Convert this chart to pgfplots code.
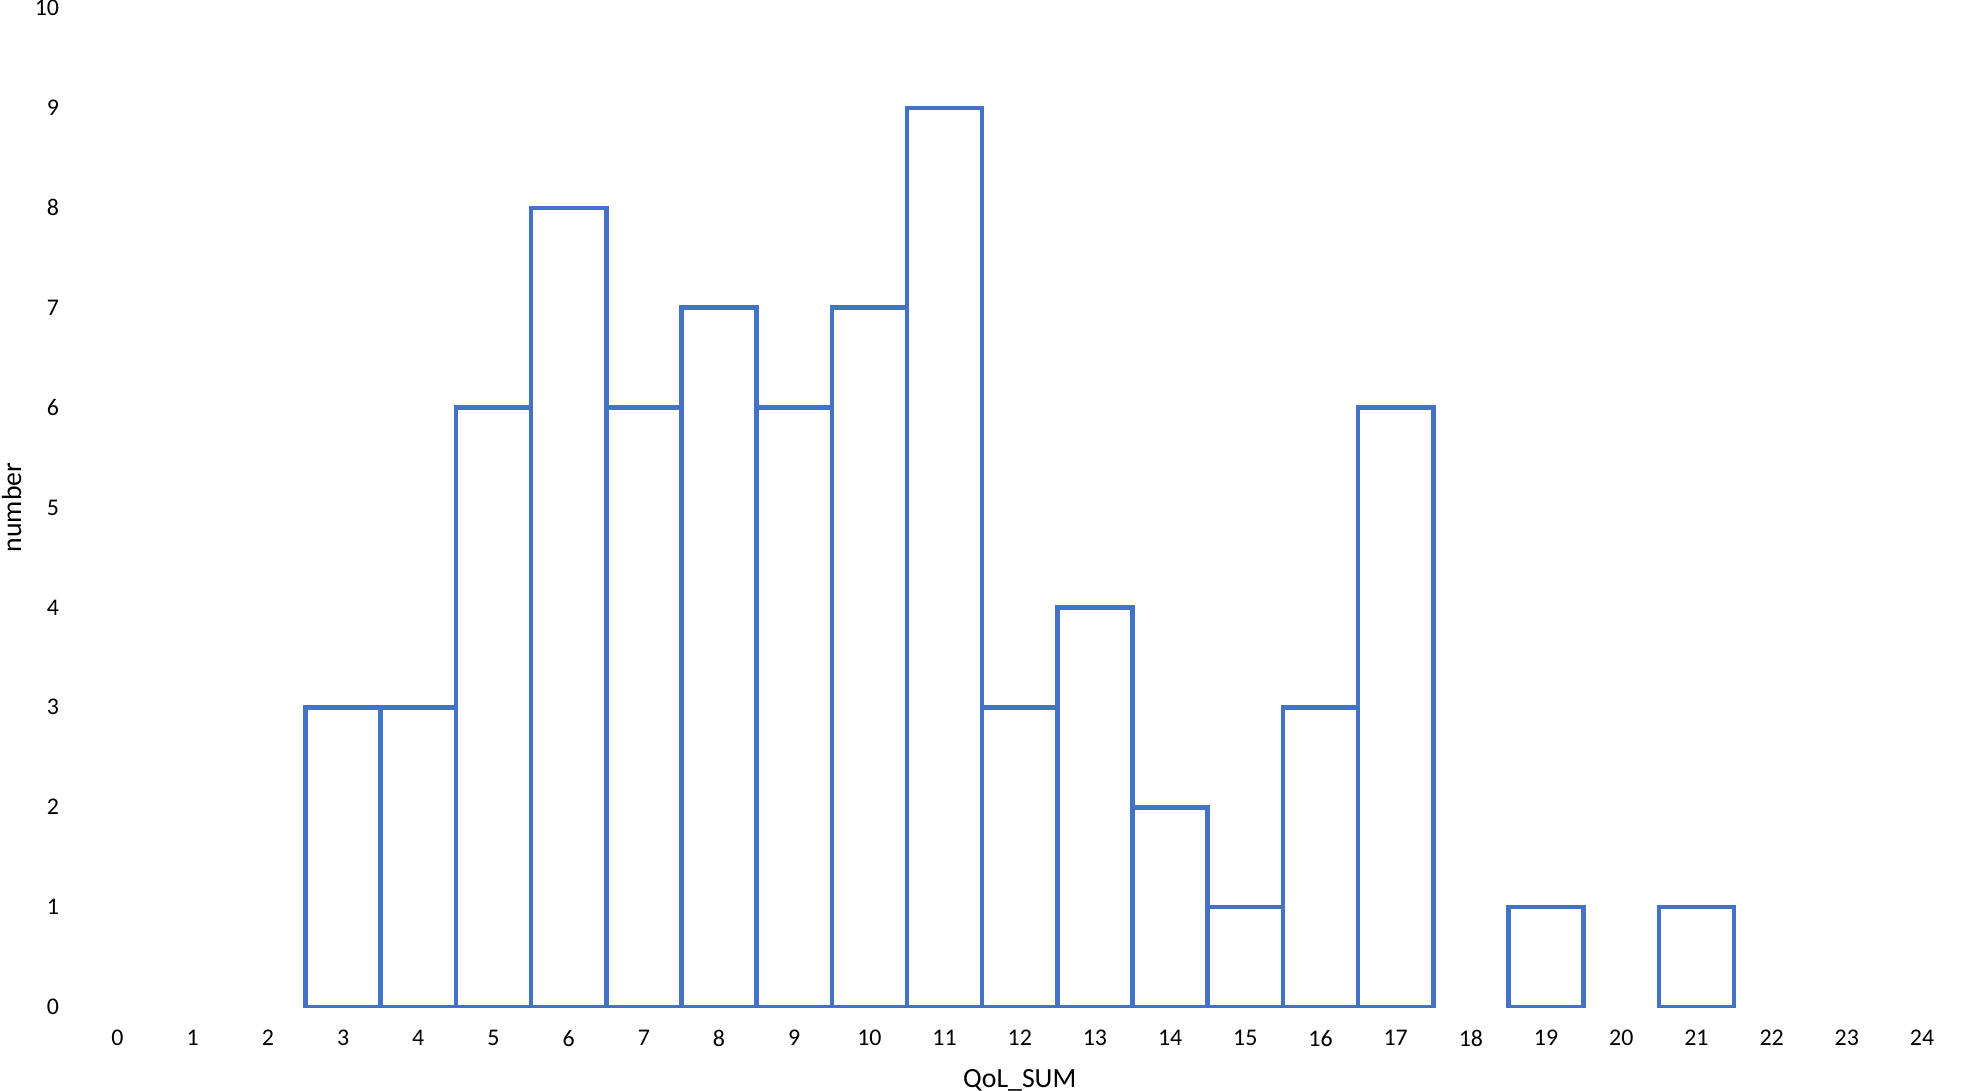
\documentclass[border=0pt]{standalone}
\usepackage{fontspec}
\setmainfont{Carlito}
\usepackage{pgfplots}
\pgfplotsset{compat=1.18}
\definecolor{barblue}{HTML}{4472C4}
\begin{document}
\begin{tikzpicture}
\begin{axis}[
  scale only axis,
  width=18.045cm, height=9.99cm,
  at={(1.175cm,0.83cm)}, anchor=south west,
  xmin=0, xmax=24, ymin=0, ymax=10,
  xtick={0,1,...,24}, ytick={0,1,...,10},
  axis line style={draw=none},
  major tick style={draw=none},
  /pgf/number format/assume math mode=true,
  ticklabel style={font=\fontsize{6.8}{8}\selectfont},
  yticklabel style={anchor=east, xshift=-0.46cm},
  xticklabel style={anchor=center, yshift=-0.16cm},
  xlabel={QoL\_SUM}, ylabel={number},
  label style={font=\fontsize{7.9}{9}\selectfont},
  xlabel style={at={(axis description cs:0.5,0)}, anchor=center, yshift=-0.73cm},
  ylabel style={at={(axis description cs:0,0.5)}, anchor=center, yshift=1.06cm},
  ybar, bar width=1, bar shift=0,
]
\addplot[draw=barblue, fill=none, line width=1.3pt] coordinates {
(3,3) (4,3) (5,6) (6,8) (7,6) (8,7) (9,6) (10,7) (11,9) (12,3) (13,4) (14,2) (15,1) (16,3) (17,6) (19,1) (21,1)
};
\end{axis}
\pgfresetboundingbox
\path (0,0) rectangle (19.61cm,10.9cm);
\end{tikzpicture}
\end{document}
